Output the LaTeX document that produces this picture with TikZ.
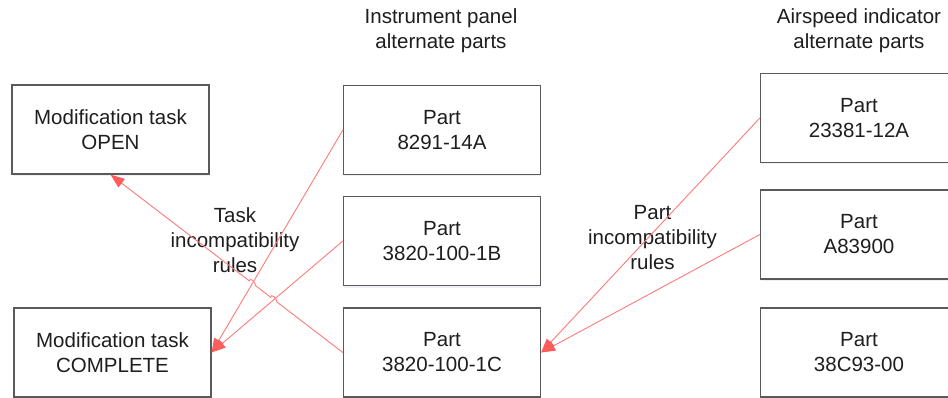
\documentclass[tikz,border=0pt]{standalone}
\usepackage{fontspec}
\setmainfont{Liberation Sans}
\usetikzlibrary{arrows.meta,calc,intersections,shadows}
\definecolor{boxline}{HTML}{5A5A5A}
\definecolor{rule}{HTML}{FF7A7A}
\definecolor{rulehead}{HTML}{FF5C5C}
\definecolor{ink}{HTML}{1E1E1E}
\begin{document}
\begin{tikzpicture}[x=1pt,y=-1pt,
  every node/.style={font=\fontsize{20.5}{25}\selectfont, text=ink},
  partbox/.style={draw=boxline, line width=1.3pt, fill=white,
    minimum width=197pt, minimum height=89pt, align=center, inner sep=0pt,
    drop shadow={shadow xshift=0.8pt, shadow yshift=-2pt, opacity=0.18, fill=blue!30!gray!50}},
  heading/.style={align=center, inner sep=0pt},
  conn/.style={draw=rule, line width=0.9pt,
    -{Triangle[length=14pt,width=10.5pt,color=rulehead]}}]
\clip (0,0) rectangle (948,398);
\useasboundingbox (0,0) rectangle (948,398);
\fill[white] (0,0) rectangle (948,398);

% column headings
\node[heading] (hpanel) at (441,30.5) {Instrument panel\\alternate parts};
\node[heading] (hspeed) at (859,30.5) {Airspeed indicator\\alternate parts};

% modification task states
\node[partbox] (open) at (110.5,129.5) {Modification task\\OPEN};
\node[partbox] (complete) at (112.5,352.5) {Modification task\\COMPLETE};

% instrument panel parts
\node[partbox] (pa) at (442,130) {Part\\8291-14A};
\node[partbox] (pb) at (442,241) {Part\\3820-100-1B};
\node[partbox] (pc) at (442,352.5) {Part\\3820-100-1C};

% airspeed indicator parts
\node[partbox] (sa) at (859,118) {Part\\23381-12A};
\node[partbox] (sb) at (859,234.5) {Part\\A83900};
\node[partbox] (sc) at (859,352.5) {Part\\38C93-00};

% rule labels
\node[heading] (tasklbl) at (235,240) {Task\\incompatibility\\rules};
\node[heading] (partlbl) at (652.5,238) {Part\\incompatibility\\rules};

% task incompatibility rules
\path[name path=ruleOpen] (pc.west) -- (open.south);
\draw[conn, name path=ruleA] (pa.west) -- (complete.east);
\draw[conn, name path=ruleB] (pb.west) -- (complete.east);
\path[name intersections={of=ruleOpen and ruleA, by=hopA}];
\path[name intersections={of=ruleOpen and ruleB, by=hopB}];
% the open-task rule hops over the two lines it crosses
\draw[conn] (pc.west)
  -- ($(hopB)!4pt!(pc.west)$) to[out=90,in=90,looseness=1.3] ($(hopB)!4pt!(open.south)$)
  -- ($(hopA)!4pt!(pc.west)$) to[out=90,in=90,looseness=1.3] ($(hopA)!4pt!(open.south)$)
  -- (open.south);

% part incompatibility rules
\draw[conn] (sa.west) -- (pc.east);
\draw[conn] (sb.west) -- (pc.east);
\end{tikzpicture}
\end{document}
